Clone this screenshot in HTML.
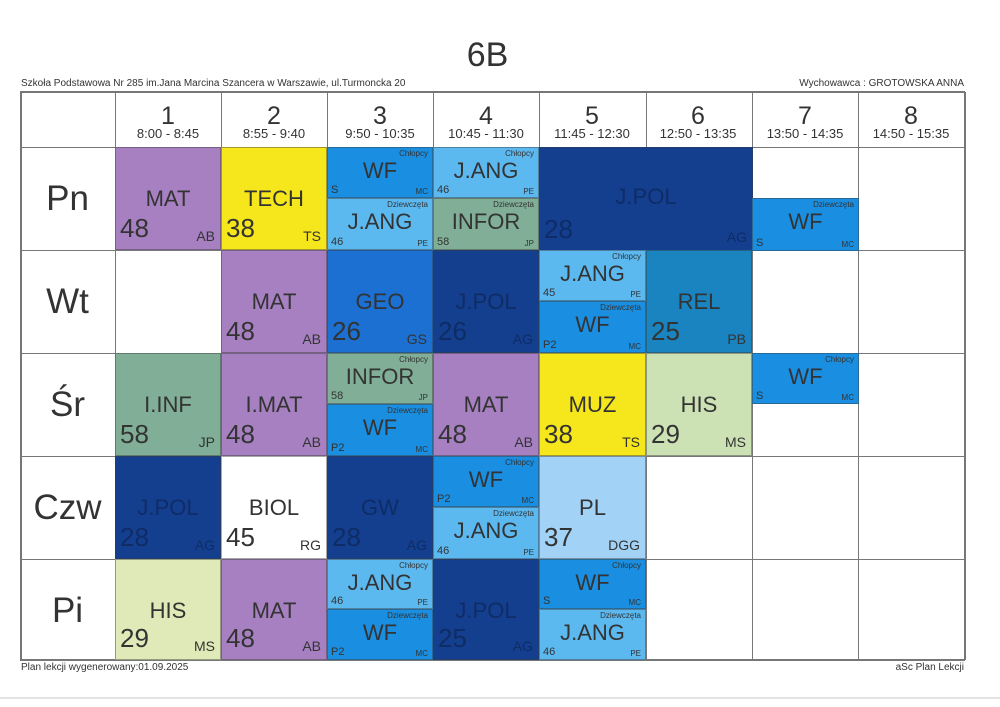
<!DOCTYPE html><html><head><meta charset="utf-8"><style>
body{margin:0;width:1000px;height:707px;background:#fff;position:relative;overflow:hidden;font-family:"Liberation Sans",Arial,sans-serif;color:#333}
.a{position:absolute}
.c{position:absolute;box-sizing:border-box;border:1px solid rgba(60,60,60,.45)}
.s{position:absolute;left:0;right:0;top:38px;text-align:center;font-size:22px}
.n{position:absolute;left:4px;bottom:5px;font-size:26px}
.t{position:absolute;right:5px;bottom:5px;font-size:14px}
.g{position:absolute;right:4px;top:1px;font-size:8px}
.s2{position:absolute;left:0;right:0;top:10px;text-align:center;font-size:22px}
.n2{position:absolute;left:3px;bottom:1px;font-size:11px}
.t2{position:absolute;right:4px;bottom:1px;font-size:8px}
.d{color:#0f2c66}
.vl{position:absolute;top:92px;height:568px;width:1px;background:#777}
.hl{position:absolute;left:20px;width:945px;height:1px;background:#777}
.h{position:absolute;top:92px;height:55px;width:106px;text-align:center}
.h b{display:block;font-weight:normal;font-size:25px;margin-top:13px;line-height:22px}
.h i{display:block;font-style:normal;font-size:13px;line-height:14px}
.day{position:absolute;left:20px;width:95px;text-align:center;font-size:35px;line-height:103px}
</style></head><body>
<div class="a" style="left:0;top:36px;width:975px;text-align:center;font-size:34px">6B</div>
<div class="a" style="left:21px;top:78px;font-size:10px">Szkoła Podstawowa Nr 285 im.Jana Marcina Szancera w Warszawie, ul.Turmoncka 20</div>
<div class="a" style="right:36px;top:78px;font-size:10px">Wychowawca : GROTOWSKA ANNA</div>
<div class="a" style="left:21px;top:662px;font-size:10px">Plan lekcji wygenerowany:01.09.2025</div>
<div class="a" style="right:36px;top:662px;font-size:10px">aSc Plan Lekcji</div>
<div class="a" style="left:0;top:697px;width:1000px;height:2px;background:#e4e4e4"></div>

<div class="vl" style="left:20px;width:2px"></div><div class="vl" style="left:115px"></div><div class="vl" style="left:221px"></div><div class="vl" style="left:327px"></div><div class="vl" style="left:433px"></div><div class="vl" style="left:539px"></div><div class="vl" style="left:646px"></div><div class="vl" style="left:752px"></div><div class="vl" style="left:858px"></div><div class="vl" style="left:964px;width:2px"></div>
<div class="hl" style="top:91px;height:2px"></div><div class="hl" style="top:147px"></div><div class="hl" style="top:250px"></div><div class="hl" style="top:353px"></div><div class="hl" style="top:456px"></div><div class="hl" style="top:559px"></div><div class="hl" style="top:659px;height:2px"></div>

<div class="h" style="left:115px"><b>1</b><i>8:00 - 8:45</i></div>
<div class="h" style="left:221px"><b>2</b><i>8:55 - 9:40</i></div>
<div class="h" style="left:327px"><b>3</b><i>9:50 - 10:35</i></div>
<div class="h" style="left:433px"><b>4</b><i>10:45 - 11:30</i></div>
<div class="h" style="left:539px"><b>5</b><i>11:45 - 12:30</i></div>
<div class="h" style="left:645px"><b>6</b><i>12:50 - 13:35</i></div>
<div class="h" style="left:752px"><b>7</b><i>13:50 - 14:35</i></div>
<div class="h" style="left:858px"><b>8</b><i>14:50 - 15:35</i></div>
<div class="day" style="top:147px">Pn</div>
<div class="day" style="top:250px">Wt</div>
<div class="day" style="top:353px">Śr</div>
<div class="day" style="top:456px">Czw</div>
<div class="day" style="top:559px">Pi</div>

<!-- Pn -->
<div class="c" style="left:115px;top:147px;width:106px;height:103px;background:#a780c2"><div class="s">MAT</div><div class="n">48</div><div class="t">AB</div></div>
<div class="c" style="left:221px;top:147px;width:106px;height:103px;background:#f6e61c"><div class="s">TECH</div><div class="n">38</div><div class="t">TS</div></div>
<div class="c" style="left:327px;top:147px;width:106px;height:51px;background:#1a8ee0"><div class="g">Chłopcy</div><div class="s2">WF</div><div class="n2">S</div><div class="t2">MC</div></div>
<div class="c" style="left:327px;top:198px;width:106px;height:52px;background:#5cb9f0"><div class="g">Dziewczęta</div><div class="s2">J.ANG</div><div class="n2">46</div><div class="t2">PE</div></div>
<div class="c" style="left:433px;top:147px;width:106px;height:51px;background:#5cb9f0"><div class="g">Chłopcy</div><div class="s2">J.ANG</div><div class="n2">46</div><div class="t2">PE</div></div>
<div class="c" style="left:433px;top:198px;width:106px;height:52px;background:#80ae96"><div class="g">Dziewczęta</div><div class="s2">INFOR</div><div class="n2">58</div><div class="t2">JP</div></div>
<div class="c d" style="left:539px;top:147px;width:214px;height:104px;background:#133f8e"><div class="s" style="top:36px">J.POL</div><div class="n">28</div><div class="t">AG</div></div>
<div class="c" style="left:752px;top:198px;width:107px;height:53px;background:#1a8ee0"><div class="g">Dziewczęta</div><div class="s2">WF</div><div class="n2">S</div><div class="t2">MC</div></div>
<!-- Wt -->
<div class="c" style="left:221px;top:250px;width:106px;height:103px;background:#a780c2"><div class="s">MAT</div><div class="n">48</div><div class="t">AB</div></div>
<div class="c" style="left:327px;top:250px;width:106px;height:103px;background:#1b70d2"><div class="s">GEO</div><div class="n">26</div><div class="t">GS</div></div>
<div class="c d" style="left:433px;top:250px;width:106px;height:103px;background:#133f8e"><div class="s">J.POL</div><div class="n">26</div><div class="t">AG</div></div>
<div class="c" style="left:539px;top:250px;width:107px;height:51px;background:#5cb9f0"><div class="g">Chłopcy</div><div class="s2">J.ANG</div><div class="n2">45</div><div class="t2">PE</div></div>
<div class="c" style="left:539px;top:301px;width:107px;height:52px;background:#1a8ee0"><div class="g">Dziewczęta</div><div class="s2">WF</div><div class="n2">P2</div><div class="t2">MC</div></div>
<div class="c" style="left:646px;top:250px;width:106px;height:103px;background:#1a84c0"><div class="s">REL</div><div class="n">25</div><div class="t">PB</div></div>
<!-- Sr -->
<div class="c" style="left:115px;top:353px;width:106px;height:103px;background:#80ae96"><div class="s">I.INF</div><div class="n">58</div><div class="t">JP</div></div>
<div class="c" style="left:221px;top:353px;width:106px;height:103px;background:#a780c2"><div class="s">I.MAT</div><div class="n">48</div><div class="t">AB</div></div>
<div class="c" style="left:327px;top:353px;width:106px;height:51px;background:#80ae96"><div class="g">Chłopcy</div><div class="s2">INFOR</div><div class="n2">58</div><div class="t2">JP</div></div>
<div class="c" style="left:327px;top:404px;width:106px;height:52px;background:#1a8ee0"><div class="g">Dziewczęta</div><div class="s2">WF</div><div class="n2">P2</div><div class="t2">MC</div></div>
<div class="c" style="left:433px;top:353px;width:106px;height:103px;background:#a780c2"><div class="s">MAT</div><div class="n">48</div><div class="t">AB</div></div>
<div class="c" style="left:539px;top:353px;width:107px;height:103px;background:#f6e61c"><div class="s">MUZ</div><div class="n">38</div><div class="t">TS</div></div>
<div class="c" style="left:646px;top:353px;width:106px;height:103px;background:#cde2b4"><div class="s">HIS</div><div class="n">29</div><div class="t">MS</div></div>
<div class="c" style="left:752px;top:353px;width:107px;height:51px;background:#1a8ee0"><div class="g">Chłopcy</div><div class="s2">WF</div><div class="n2">S</div><div class="t2">MC</div></div>
<!-- Czw -->
<div class="c d" style="left:115px;top:456px;width:106px;height:103px;background:#133f8e"><div class="s">J.POL</div><div class="n">28</div><div class="t">AG</div></div>
<div class="c" style="left:221px;top:456px;width:106px;height:103px;background:#fff"><div class="s">BIOL</div><div class="n">45</div><div class="t">RG</div></div>
<div class="c d" style="left:327px;top:456px;width:106px;height:103px;background:#133f8e"><div class="s">GW</div><div class="n">28</div><div class="t">AG</div></div>
<div class="c" style="left:433px;top:456px;width:106px;height:51px;background:#1a8ee0"><div class="g">Chłopcy</div><div class="s2">WF</div><div class="n2">P2</div><div class="t2">MC</div></div>
<div class="c" style="left:433px;top:507px;width:106px;height:52px;background:#5cb9f0"><div class="g">Dziewczęta</div><div class="s2">J.ANG</div><div class="n2">46</div><div class="t2">PE</div></div>
<div class="c" style="left:539px;top:456px;width:107px;height:103px;background:#a2d2f6"><div class="s">PL</div><div class="n">37</div><div class="t">DGG</div></div>
<!-- Pi -->
<div class="c" style="left:115px;top:559px;width:106px;height:101px;background:#dfeab8"><div class="s">HIS</div><div class="n">29</div><div class="t">MS</div></div>
<div class="c" style="left:221px;top:559px;width:106px;height:101px;background:#a780c2"><div class="s">MAT</div><div class="n">48</div><div class="t">AB</div></div>
<div class="c" style="left:327px;top:559px;width:106px;height:50px;background:#5cb9f0"><div class="g">Chłopcy</div><div class="s2">J.ANG</div><div class="n2">46</div><div class="t2">PE</div></div>
<div class="c" style="left:327px;top:609px;width:106px;height:51px;background:#1a8ee0"><div class="g">Dziewczęta</div><div class="s2">WF</div><div class="n2">P2</div><div class="t2">MC</div></div>
<div class="c d" style="left:433px;top:559px;width:106px;height:101px;background:#133f8e"><div class="s">J.POL</div><div class="n">25</div><div class="t">AG</div></div>
<div class="c" style="left:539px;top:559px;width:107px;height:50px;background:#1a8ee0"><div class="g">Chłopcy</div><div class="s2">WF</div><div class="n2">S</div><div class="t2">MC</div></div>
<div class="c" style="left:539px;top:609px;width:107px;height:51px;background:#5cb9f0"><div class="g">Dziewczęta</div><div class="s2">J.ANG</div><div class="n2">46</div><div class="t2">PE</div></div>
</body></html>
